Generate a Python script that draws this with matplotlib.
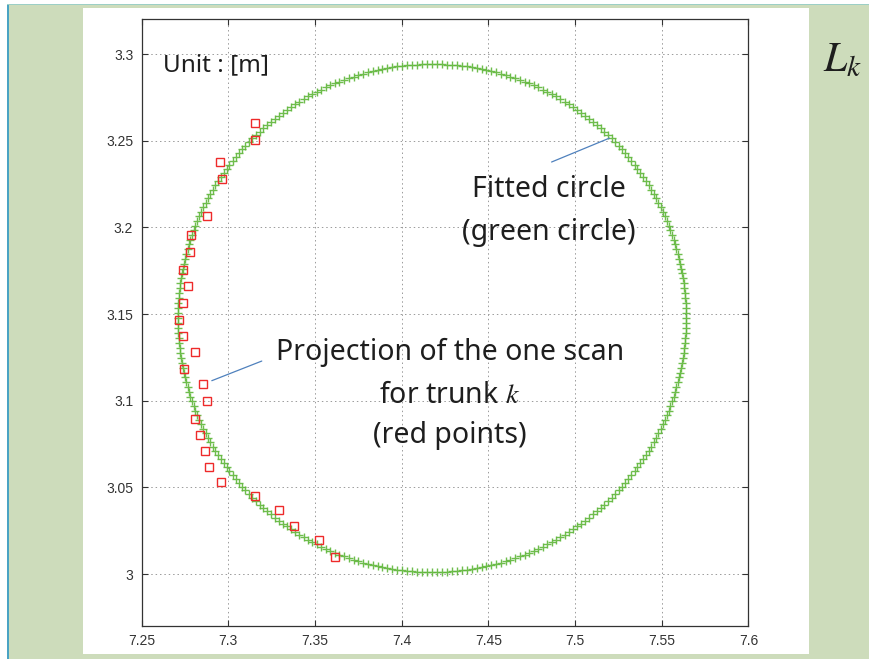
import numpy as np
import matplotlib
matplotlib.use("Agg")
import matplotlib.pyplot as plt
from matplotlib.patches import Rectangle

plt.rcParams['mathtext.fontset'] = 'stix'

# red points: one scan projected for trunk k
scan_x = [7.3154, 7.3156, 7.2954, 7.2964, 7.2879, 7.2785, 7.2779, 7.2739, 7.2768,
          7.2740, 7.2717, 7.2740, 7.2808, 7.2744, 7.2854, 7.2879, 7.2810, 7.2837,
          7.2866, 7.2889, 7.2958, 7.3156, 7.3294, 7.3381, 7.3525, 7.3614]
scan_y = [3.2602, 3.2502, 3.2377, 3.2277, 3.2067, 3.1958, 3.1858, 3.1753, 3.1662,
          3.1564, 3.1464, 3.1372, 3.1280, 3.1183, 3.1095, 3.0999, 3.0895, 3.0803,
          3.0710, 3.0617, 3.0532, 3.0449, 3.0368, 3.0276, 3.0196, 3.0101]

# fitted circle
cx, cy, r = 7.4175, 3.1477, 0.1465
n_circle = 320

xticks = [7.25, 7.3, 7.35, 7.4, 7.45, 7.5, 7.55, 7.6]
yticks = [3.0, 3.05, 3.1, 3.15, 3.2, 3.25, 3.3]

W, H = 869, 659
fig = plt.figure(figsize=(W / 100, H / 100), dpi=100)
fig.patch.set_facecolor('white')

# slide background
fig.patches.append(Rectangle((9 / W, 0), 1, 655 / H, transform=fig.transFigure,
                             facecolor='#cddcbb', edgecolor='none', zorder=0))
fig.patches.append(Rectangle((6.5 / W, 0), 2.5 / W, 655 / H, transform=fig.transFigure,
                             facecolor='#4aa3c3', edgecolor='none', zorder=1))
fig.patches.append(Rectangle((6.5 / W, 654 / H), 1, 1.5 / H, transform=fig.transFigure,
                             facecolor='#9ccfc6', edgecolor='none', zorder=1))
fig.patches.append(Rectangle((83 / W, 5 / H), 726 / W, 646 / H, transform=fig.transFigure,
                             facecolor='white', edgecolor='none', zorder=1))

ax = fig.add_axes([141.6 / W, 33 / H, 606.8 / W, 607 / H])
ax.set_zorder(2)

t = np.linspace(0, 2 * np.pi, n_circle, endpoint=False)
ax.plot(cx + r * np.cos(t), cy + r * np.sin(t), linestyle='none', marker='+',
        markersize=5.5, markeredgewidth=1.0, color='#5fb63a', alpha=0.9, zorder=3)
ax.plot(scan_x, scan_y, linestyle='none', marker='s', markersize=5.5,
        markerfacecolor='none', markeredgecolor='#ee2a2a', markeredgewidth=1.0, zorder=4)

ax.set_xlim(7.25, 7.6)
ax.set_ylim(2.9701, 3.3202)
ax.set_xticks(xticks)
ax.set_xticklabels(['7.25', '7.3', '7.35', '7.4', '7.45', '7.5', '7.55', '7.6'])
ax.set_yticks(yticks)
ax.set_yticklabels(['3', '3.05', '3.1', '3.15', '3.2', '3.25', '3.3'])
ax.grid(True, color='#9a9a9a', linestyle=(0, (1.5, 3)), linewidth=0.7)
ax.tick_params(direction='in', length=4.5, width=0.8, top=True, right=True,
               labelsize=10, labelcolor='#333333', color='#333333', pad=6)
for lab in ax.get_xticklabels() + ax.get_yticklabels():
    lab.set_family('Liberation Sans')
for sp in ax.spines.values():
    sp.set_color('#333333')
    sp.set_linewidth(0.9)

txt = dict(family='Noto Sans', color='#1e1e1e')
ax.text(7.2623, 3.2937, 'Unit : [m]', fontsize=17.5, ha='left', va='center', **txt)

ax.text(7.485, 3.2216, 'Fitted circle', fontsize=20.5, ha='center', va='center', **txt)
ax.text(7.485, 3.1973, '(green circle)', fontsize=20.5, ha='center', va='center', **txt)
ax.annotate('', xy=(7.5213, 3.2521), xytext=(7.485, 3.2371),
            arrowprops=dict(arrowstyle='-', color='#4f81bd', lw=0.9))

ax.text(7.4279, 3.1276, 'Projection of the one scan', fontsize=20.5, ha='center', va='center', **txt)
ax.text(7.4279, 3.1033, 'for trunk $k$', fontsize=20.5, ha='center', va='center', **txt)
ax.text(7.4279, 3.0797, '(red points)', fontsize=20.5, ha='center', va='center', **txt)
ax.annotate('', xy=(7.289, 3.111), xytext=(7.3208, 3.1235),
            arrowprops=dict(arrowstyle='-', color='#4f81bd', lw=0.9))

fig.text(823 / W, (H - 71) / H, '$L_k$', fontsize=30, ha='left', va='baseline',
         color='#1e1e1e', zorder=5)

fig.savefig('out.png', dpi=100, facecolor=fig.get_facecolor())
